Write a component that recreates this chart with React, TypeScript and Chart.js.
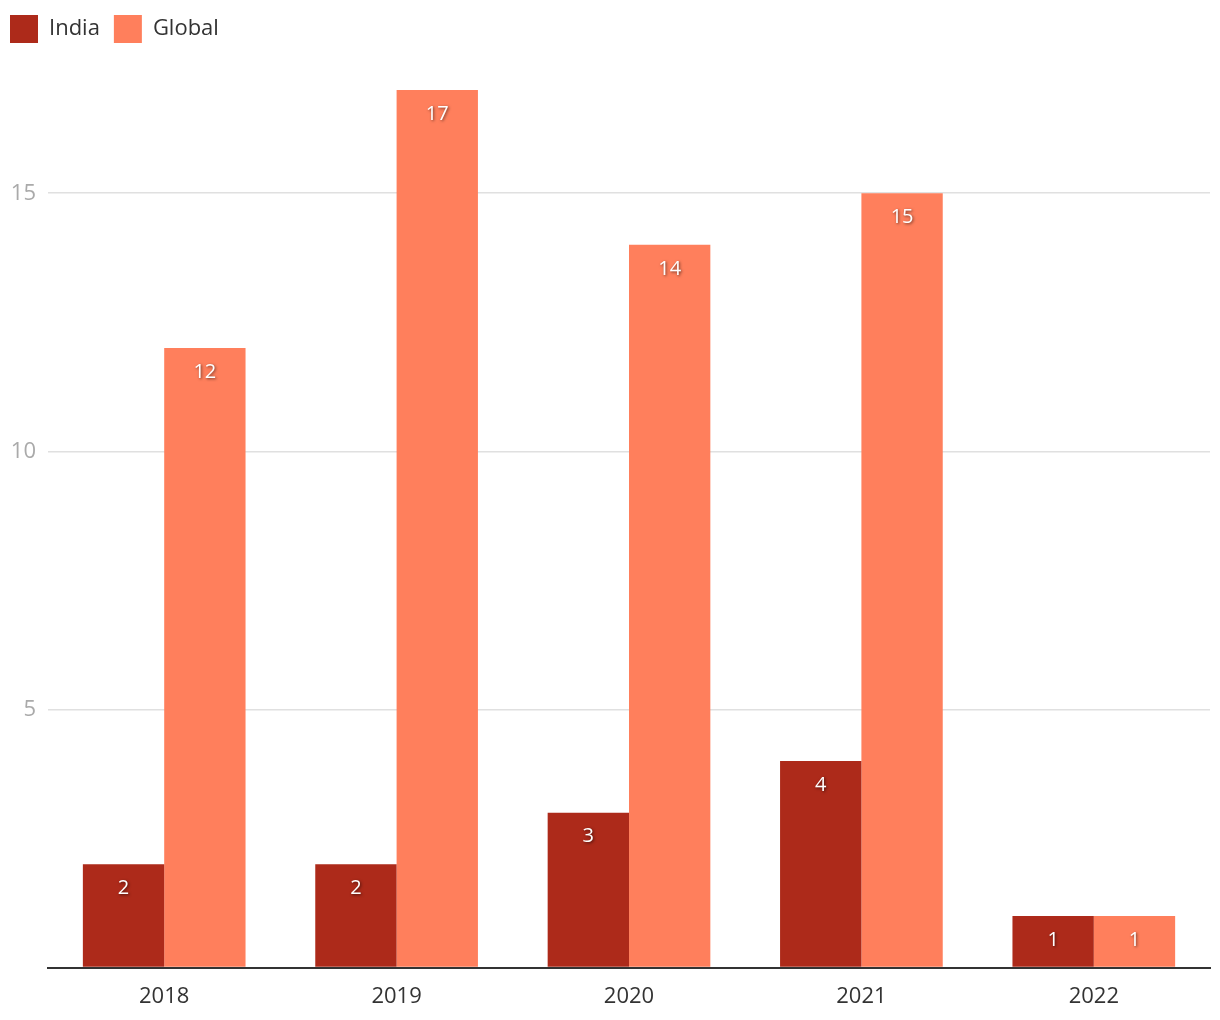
import React, { useEffect, useRef } from "react";
import { Chart, registerables } from "chart.js";

Chart.register(...registerables);

const categories = ["2018", "2019", "2020", "2021", "2022"];
const indiaValues = [2, 2, 3, 4, 1];
const globalValues = [12, 17, 14, 15, 1];
const yTicks = [5, 10, 15];

const FONT = "'Open Sans', 'Noto Sans', sans-serif";

const barLabels = {
  id: "barLabels",
  afterDatasetsDraw(chart: any) {
    const ctx = chart.ctx;
    ctx.save();
    ctx.font = `20px ${FONT}`;
    ctx.textAlign = "center";
    ctx.textBaseline = "middle";
    ctx.fillStyle = "#ffffff";
    ctx.shadowColor = "rgba(0,0,0,0.6)";
    ctx.shadowBlur = 3;
    ctx.shadowOffsetX = 1;
    ctx.shadowOffsetY = 1;
    chart.data.datasets.forEach((ds: any, di: number) => {
      const meta = chart.getDatasetMeta(di);
      meta.data.forEach((bar: any, i: number) => {
        const v = ds.data[i];
        const h = bar.base - bar.y;
        const ty = h < 48 ? (bar.y + bar.base) / 2 : bar.y + 24;
        ctx.fillText(String(v), bar.x, ty);
      });
    });
    ctx.restore();
  },
};

const legendSpace = {
  id: "legendSpace",
  beforeLayout(chart: any) {
    const lg = chart.legend;
    if (lg && !lg._extraPatched) {
      const f = lg.fit.bind(lg);
      lg.fit = function () {
        f();
        this.height += 37;
      };
      lg._extraPatched = true;
    }
  },
};

export default function App() {
  const ref = useRef<HTMLCanvasElement>(null);
  useEffect(() => {
    if (!ref.current) return;
    const chart = new Chart(ref.current, {
      type: "bar",
      data: {
        labels: categories,
        datasets: [
          { label: "India", data: indiaValues, backgroundColor: "#ad2a1a" },
          { label: "Global", data: globalValues, backgroundColor: "#ff7f5c" },
        ],
      },
      options: {
        animation: false,
        responsive: false,
        layout: { padding: { left: -4, right: 10, top: 1, bottom: -6 } },
        datasets: { bar: { categoryPercentage: 0.7, barPercentage: 1.0 } },
        plugins: {
          legend: {
            position: "top",
            align: "start",
            labels: {
              boxWidth: 28,
              boxHeight: 28,
              padding: 14,
              color: "#333333",
              font: { family: FONT, size: 22 },
            },
          },
          tooltip: { enabled: false },
        },
        scales: {
          x: {
            grid: { display: false, drawTicks: false },
            border: { display: true, color: "#333333", width: 2 },
            ticks: { color: "#333333", font: { family: FONT, size: 22 }, padding: 16 },
          },
          y: {
            min: 0,
            max: 17,
            afterBuildTicks: (scale: any) => {
              scale.ticks = [0, ...yTicks].map((v) => ({ value: v }));
            },
            afterFit: (scale: any) => {
              scale.width = 52;
            },
            grid: { color: "#e0e0e0", lineWidth: 1.5, drawTicks: false },
            border: { display: false },
            ticks: {
              color: "#aaaaaa",
              font: { family: FONT, size: 22 },
              padding: 12,
              callback: (v: any) => (v === 0 ? "" : String(v)),
            },
          },
        },
      },
      plugins: [barLabels, legendSpace],
    });
    return () => chart.destroy();
  }, []);
  return (
    <div style={{ position: "absolute", left: 0, top: 0, width: 1220, height: 1020 }}>
      <canvas ref={ref} width={1220} height={1020} />
    </div>
  );
}
